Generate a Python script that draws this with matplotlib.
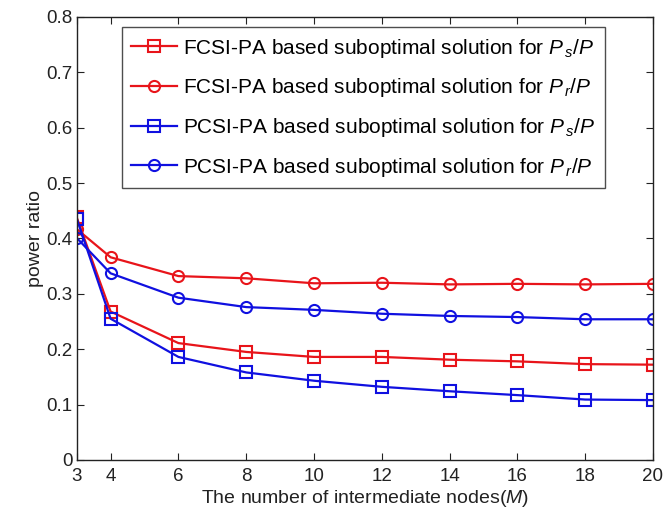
import matplotlib
matplotlib.use("Agg")
import matplotlib.pyplot as plt

plt.rcParams['font.family'] = ['Liberation Sans', 'DejaVu Sans']
plt.rcParams['mathtext.fontset'] = 'custom'
plt.rcParams['mathtext.rm'] = 'Liberation Sans'
plt.rcParams['mathtext.it'] = 'Liberation Sans:italic'

M = [3, 4, 6, 8, 10, 12, 14, 16, 18, 20]
fcsi_ps = [0.438, 0.268, 0.211, 0.195, 0.186, 0.186, 0.181, 0.178, 0.173, 0.172]
fcsi_pr = [0.417, 0.366, 0.332, 0.328, 0.319, 0.320, 0.317, 0.318, 0.317, 0.318]
pcsi_ps = [0.436, 0.255, 0.186, 0.158, 0.143, 0.132, 0.124, 0.117, 0.109, 0.108]
pcsi_pr = [0.401, 0.337, 0.293, 0.276, 0.271, 0.264, 0.260, 0.258, 0.254, 0.254]

labels = [
    r'FCSI-PA based suboptimal solution for $P_{\,s}$/$P$',
    r'FCSI-PA based suboptimal solution for $P_{\,r}$/$P$',
    r'PCSI-PA based suboptimal solution for $P_{\,s}$/$P$',
    r'PCSI-PA based suboptimal solution for $P_{\,r}$/$P$',
]
xticks = [3, 4, 6, 8, 10, 12, 14, 16, 18, 20]
yticks = [0, 0.1, 0.2, 0.3, 0.4, 0.5, 0.6, 0.7, 0.8]

fig = plt.figure(figsize=(6.67, 5.15), dpi=100)
ax = fig.add_axes([0.115, 0.107, 0.864, 0.860])

red = '#e8141a'
blue = '#1010e0'
kw = dict(lw=1.6, ms=8, mfc='none', mew=1.5)
ax.plot(M, fcsi_ps, '-s', color=red, label=labels[0], **kw)
ax.plot(M, fcsi_pr, '-o', color=red, label=labels[1], **kw)
ax.plot(M, pcsi_ps, '-s', color=blue, label=labels[2], **kw)
ax.plot(M, pcsi_pr, '-o', color=blue, label=labels[3], **kw)

ax.set_xlim(3, 20)
ax.set_ylim(0, 0.8)
ax.set_xticks(xticks)
ax.set_yticks(yticks)
ax.set_yticklabels(['0', '0.1', '0.2', '0.3', '0.4', '0.5', '0.6', '0.7', '0.8'])
ax.tick_params(direction='in', top=True, right=True, labelsize=13.5, length=5,
               colors='#222222')
ax.tick_params(axis='x', pad=6)
ax.tick_params(axis='y', pad=3)
for s in ax.spines.values():
    s.set_linewidth(1.0)
    s.set_color('#222222')

ax.set_xlabel('The number of intermediate nodes($M$)', fontsize=14, color='#222222',
              labelpad=2)
ax.set_ylabel('power ratio', fontsize=14, color='#222222', labelpad=2)

leg = ax.legend(loc='upper left', bbox_to_anchor=(0.078, 0.977), fontsize=15,
                frameon=True, fancybox=False, edgecolor='#222222',
                handlelength=2.2, handletextpad=0.3, labelspacing=0.8,
                borderpad=0.45, borderaxespad=0)
leg.get_frame().set_linewidth(1.0)

fig.savefig('out.png', dpi=100)
